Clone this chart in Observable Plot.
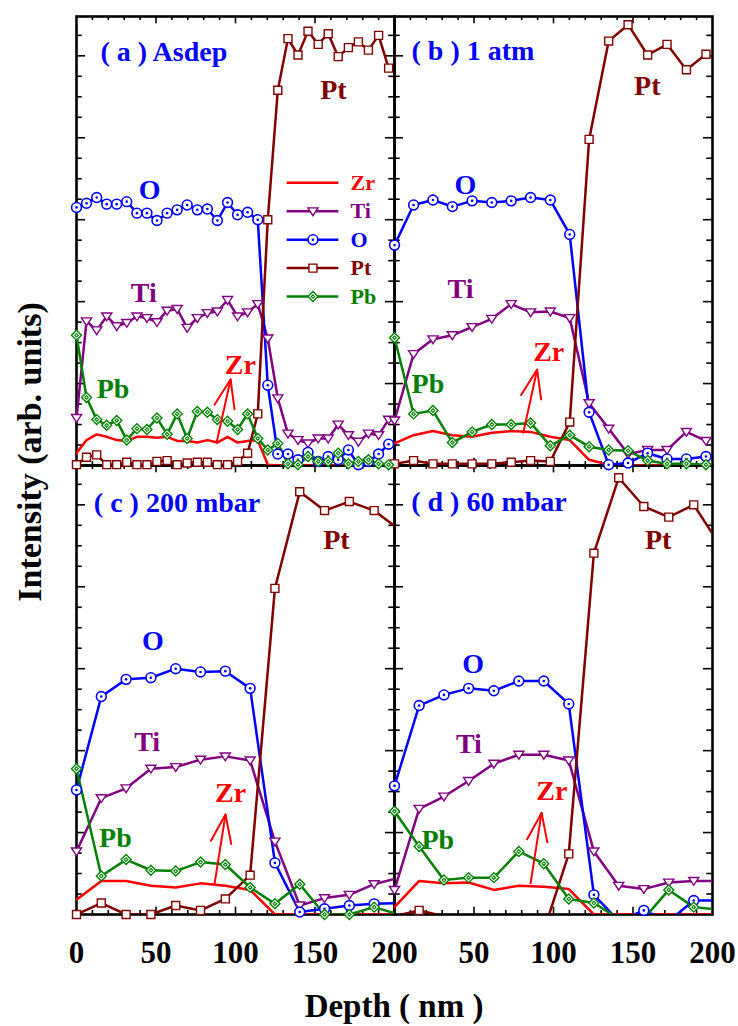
<!DOCTYPE html>
<html><head><meta charset="utf-8">
<script src="https://cdn.jsdelivr.net/npm/d3@7"></script>
<script src="https://cdn.jsdelivr.net/npm/@observablehq/plot@0.6"></script>
<style>
html,body{margin:0;padding:0;background:#fff;}
#wrap{position:relative;width:738px;height:1026px;overflow:hidden;background:#fff;}
#chart{position:absolute;left:0;top:0;}
.ttl{position:absolute;font-family:"Liberation Serif","Times New Roman",serif;font-weight:bold;font-size:33px;line-height:33px;white-space:nowrap;color:#000;}
#ylab{left:30px;top:452px;font-size:34px;line-height:34px;transform:translate(-50%,-50%) rotate(-90deg);}
#xlab{left:394px;top:1006px;transform:translate(-50%,-50%);}
</style></head><body>
<div id="wrap"><div id="chart"></div><div id="ylab" class="ttl">Intensity (arb. units)</div><div id="xlab" class="ttl">Depth ( nm )</div></div>
<script>
// ---------------- data ----------------
const elements = ["Zr", "Ti", "O", "Pt", "Pb"];
const panels = ["a", "b", "c", "d"];
const panelTitles = ["( a ) Asdep", "( b ) 1 atm", "( c ) 200 mbar", "( d ) 60 mbar"];

const depthA = [0,6.3,12.7,19,25.3,31.6,38,44.3,50.6,57,63.3,69.6,76,82.3,88.6,95,101.3,107.6,114,120.3,126.6,133,139.3,145.6,152,158.3,164.6,171,177.3,183.6,190,196.3];
const zrA = [0.15,0.31,0.38,0.35,0.31,0.30,0.35,0.35,0.34,0.35,0.30,0.30,0.28,0.31,0.28,0.35,0.28,0.30,0.31,0.01,0,0,0,0,0,0,0,0,0,0,0,0];
const tiA = [0.58,1.76,1.65,1.82,1.70,1.74,1.82,1.80,1.75,1.89,1.91,1.68,1.80,1.86,1.88,2.02,1.82,1.87,1.97,1.55,0.82,0.39,0.31,0.27,0.33,0.33,0.50,0.37,0.29,0.39,0.37,0.56];
const oA  = [3.15,3.20,3.27,3.19,3.19,3.22,3.08,3.08,2.99,3.08,3.12,3.18,3.12,3.13,2.99,3.21,3.06,3.09,3.00,0.98,0.14,0.14,0.07,0.16,0.05,0.11,0.07,0.19,0.01,0.05,0.14,0.26];
const ptA = [0.01,0.10,0.13,0.01,0.01,0.04,0.01,0.01,0.05,0.06,0.01,0.03,0.04,0.04,0.01,0.01,0.05,0.15,0.63,3.00,4.58,5.21,5.01,5.30,5.14,5.27,4.99,5.10,5.17,5.07,5.25,4.85];
const pbA = [1.59,0.83,0.56,0.49,0.55,0.31,0.45,0.44,0.58,0.38,0.63,0.33,0.66,0.65,0.56,0.54,0.44,0.63,0.33,0.19,0.27,0.02,0.01,0.11,0.05,0.05,0.15,0.02,0.05,0.07,0.02,0.01];

const depthB = [0,12,24.2,36.4,48.8,61.2,73.4,85.6,98,110.2,122.4,134.7,146.9,159.2,171.4,183.6,195.9];
const zrB = [0.27,0.37,0.42,0.37,0.35,0.40,0.42,0.41,0.35,0.31,0.07,0.01,0,0,0,0,0];
const tiB = [0.55,1.36,1.54,1.59,1.69,1.79,1.97,1.87,1.88,1.80,0.76,0.45,0.14,0.19,0.19,0.41,0.30];
const oB  = [2.69,3.18,3.24,3.16,3.23,3.21,3.23,3.27,3.24,2.82,0.65,0.01,0.03,0.15,0.08,0.08,0.11];
const ptB = [0.02,0.06,0.02,0.02,0.02,0.02,0.04,0.06,0.05,0.53,3.98,5.18,5.38,5.01,5.14,4.83,5.02];
const pbB = [1.56,0.63,0.67,0.28,0.41,0.50,0.50,0.52,0.24,0.37,0.23,0.19,0.18,0.06,0.02,0.02,0.01];

const depthC = [0,15.6,31.2,46.8,62.4,78,93.6,109.2,124.8,140.4,156,171.6,187.2,202.8];
const zrC = [0.18,0.41,0.41,0.35,0.33,0.38,0.35,0.30,0,0,0,0,0,0];
const tiC = [0.77,1.42,1.54,1.78,1.80,1.89,1.93,1.88,0.89,0.11,0.20,0.24,0.37,0.45];
const oC  = [1.52,2.66,2.87,2.89,3.00,2.96,2.97,2.76,0.63,0.03,0.07,0.11,0.13,0.14];
const ptC = [0,0.14,0,0,0.11,0.05,0.19,0.48,3.98,5.16,4.93,5.04,4.93,4.70];
const pbC = [1.78,0.47,0.67,0.54,0.53,0.64,0.61,0.33,0.13,0.37,0,0,0.09,0];

const depthD = [0,15.5,31.1,46.6,62.5,78.2,93.9,109.6,125.4,141,156.8,172.5,188.2,203.9];
const zrD = [0.09,0.41,0.38,0.39,0.30,0.35,0.34,0.31,0,0,0,0,0,0];
const tiD = [0.30,1.29,1.44,1.63,1.84,1.95,1.95,1.88,0.77,0.35,0.31,0.39,0.41,0.41];
const oD  = [1.57,2.55,2.68,2.76,2.73,2.85,2.85,2.57,0.24,-0.08,0.05,-0.08,0.17,0.17];
const ptD = [-0.02,0.05,-0.02,-1,-1,-1,-0.2,0.74,4.41,5.33,4.98,4.85,5.00,4.53];
const pbD = [1.26,0.83,0.42,0.45,0.45,0.77,0.62,0.19,0.14,-0.05,-0.05,0.30,0.09,0.06];

const xTickLabelsLeft = [0, 50, 100, 150, 200];
const xTickLabelsRight = [50, 100, 150, 200];

// ---------------- layout / style ----------------
const W = 738, H = 1026, ML = 76, MR = 26, MT = 15, MB = 112;
const YMAX = 5.48;
const PX_NM = (W - ML - MR) / 2 / 200;
const PX_U = (H - MT - MB) / 2 / YMAX;
const colors = {Zr: "#ff0000", Ti: "#800080", O: "#0000ff", Pt: "#800000", Pb: "#008000"};
const place = {a: ["L", "T"], b: ["R", "T"], c: ["L", "B"], d: ["R", "B"]};
const series = {
  a: {x: depthA, Zr: zrA, Ti: tiA, O: oA, Pt: ptA, Pb: pbA},
  b: {x: depthB, Zr: zrB, Ti: tiB, O: oB, Pt: ptB, Pb: pbB},
  c: {x: depthC, Zr: zrC, Ti: tiC, O: oC, Pt: ptC, Pb: pbC},
  d: {x: depthD, Zr: zrD, Ti: tiD, O: oD, Pt: ptD, Pb: pbD}
};
const labelPos = {
  a: {O: [46, 3.36], Ti: [42.3, 2.11], Pb: [23, 0.93], Pt: [161.6, 4.58], Zr: [103, 1.23]},
  b: {O: [44.6, 3.42], Ti: [41.5, 2.15], Pb: [21, 0.99], Pt: [159, 4.63], Zr: [97, 1.39]},
  c: {O: [48, 3.34], Ti: [44.4, 2.10], Pb: [24.5, 0.93], Pt: [163.5, 4.57], Zr: [96.9, 1.48]},
  d: {O: [49.4, 3.06], Ti: [46.8, 2.08], Pb: [27.2, 0.91], Pt: [165.8, 4.57], Zr: [99, 1.51]}
};
const titlePos = {a: [15.1, 5.05], b: [10.7, 5.06], c: [10.9, 5.02], d: [10.5, 5.04]};
const arrowPos = {
  a: {tail: [88, 0.27], tip: [96.9, 1.05]},
  b: {tail: [80.9, 0.39], tip: [89.7, 1.17]},
  c: {tail: [86.8, 0.37], tip: [93.7, 1.22]},
  d: {tail: [85.5, 0.37], tip: [92.5, 1.24]}
};
const LEG = {x1: 132.5, x2: 165, xm: 148.7, xt: 172.3, y0: 3.45, dy: 0.347};

// ---------------- build tables ----------------
const rows = [];
for (const p of panels) {
  const s = series[p];
  for (const el of elements) {
    s.x.forEach((x, i) => rows.push({panel: p, el, key: p + el, x, y: s[el][i], col: place[p][0], row: place[p][1]}));
  }
}
const visible = rows.filter(d => d.y >= 0 && d.x <= 200);

const elLabels = [];
for (const p of panels) for (const el of elements)
  elLabels.push({el, x: labelPos[p][el][0], y: labelPos[p][el][1], col: place[p][0], row: place[p][1]});
const titles = panels.map((p, i) => ({text: panelTitles[i], x: titlePos[p][0], y: titlePos[p][1], col: place[p][0], row: place[p][1]}));
const shafts = panels.map(p => ({x1: arrowPos[p].tail[0], y1: arrowPos[p].tail[1], x2: arrowPos[p].tip[0], y2: arrowPos[p].tip[1], col: place[p][0], row: place[p][1]}));
const barbs = [];
for (const p of panels) {
  const {tail, tip} = arrowPos[p];
  const dx = (tip[0] - tail[0]) * PX_NM, dy = -(tip[1] - tail[1]) * PX_U;
  const rot = Math.atan2(dx, -dy) * 180 / Math.PI;
  for (const s of [-20, 20]) barbs.push({x: tip[0], y: tip[1], rot: rot + 180 + s, col: place[p][0], row: place[p][1]});
}
const legendRows = elements.map((el, i) => ({el, x: LEG.xm, y: LEG.y0 - i * LEG.dy, col: "L", row: "T"}));
const xLabelRows = [
  ...xTickLabelsLeft.map(v => ({v, col: "L", row: "B"})),
  ...xTickLabelsRight.map(v => ({v, col: "R", row: "B"}))
];
const xTicks = d3.range(10, 200, 10).map(v => ({v, major: v % 50 === 0}));
const yTicks = d3.range(0.25, 5.3, 0.25).map(v => ({v, major: Math.abs(v - Math.round(v)) < 1e-9}));

// ---------------- symbols ----------------
const triDown = {draw(ctx, size) {
  const r = Math.sqrt(size / Math.PI);
  const w = r * 1.15, h1 = r * 0.78, h2 = r * 1.0;
  ctx.moveTo(-w, -h1); ctx.lineTo(w, -h1); ctx.lineTo(0, h2); ctx.closePath();
}};
const lineShape = {draw(ctx, l) { ctx.moveTo(0, 0); ctx.lineTo(0, -l); }};

function markers(data) {
  const pick = el => data.filter(d => d.el === el);
  const base = {x: "x", y: "y", fx: "col", fy: "row"};
  return [
    Plot.dot(pick("Ti"), {...base, symbol: triDown, r: 4.4, stroke: colors.Ti, fill: "white", strokeWidth: 1.4}),
    Plot.dot(pick("O"), {...base, symbol: "circle", r: 4.9, stroke: colors.O, fill: "white", strokeWidth: 1.6}),
    Plot.dot(pick("O"), {...base, symbol: "circle", r: 1.3, fill: colors.O}),
    Plot.dot(pick("Pt"), {...base, symbol: "square", r: 4.5, stroke: colors.Pt, fill: "white", strokeWidth: 1.4}),
    Plot.dot(pick("Pb"), {...base, symbol: "diamond2", r: 4.5, stroke: colors.Pb, fill: "white", strokeWidth: 1.4}),
    Plot.dot(pick("Pb"), {...base, symbol: "diamond2", r: 1.6, stroke: colors.Pb, fill: "white", strokeWidth: 1.1})
  ];
}

const chart = Plot.plot({
  width: W, height: H,
  marginLeft: ML, marginRight: MR, marginTop: MT, marginBottom: MB,
  x: {domain: [0, 200], axis: null},
  y: {domain: [0, YMAX], axis: null},
  fx: {domain: ["L", "R"], padding: 0, axis: null},
  fy: {domain: ["T", "B"], padding: 0, axis: null},
  color: {type: "identity"},
  style: {fontFamily: '"Liberation Serif", "Times New Roman", serif', background: "white"},
  marks: [
    Plot.frame({stroke: "#000", strokeWidth: 2.6}),
    Plot.ruleX(xTicks, {x: "v", y1: 0, y2: d => d.major ? 0.09 : 0.05, stroke: "#000", strokeWidth: 1.6}),
    Plot.ruleX(xTicks, {x: "v", y1: d => YMAX - (d.major ? 0.09 : 0.05), y2: YMAX, stroke: "#000", strokeWidth: 1.6}),
    Plot.ruleY(yTicks, {y: "v", x1: 0, x2: d => d.major ? 5.7 : 3.6, stroke: "#000", strokeWidth: 1.6}),
    Plot.ruleY(yTicks, {y: "v", x1: d => 200 - (d.major ? 5.7 : 3.6), x2: 200, stroke: "#000", strokeWidth: 1.6}),
    Plot.line(rows, {x: "x", y: "y", fx: "col", fy: "row", z: "key", stroke: d => colors[d.el], strokeWidth: 2.5, clip: true}),
    ...markers(visible),
    Plot.link(shafts, {x1: "x1", y1: "y1", x2: "x2", y2: "y2", fx: "col", fy: "row", stroke: colors.Zr, strokeWidth: 2}),
    Plot.vector(barbs, {x: "x", y: "y", fx: "col", fy: "row", length: 30, rotate: "rot", anchor: "start", shape: lineShape, stroke: colors.Zr, strokeWidth: 2}),
    Plot.text(elLabels, {x: "x", y: "y", text: "el", fx: "col", fy: "row", fill: d => colors[d.el], fontSize: 28, fontWeight: "bold", textAnchor: "middle", lineAnchor: "middle"}),
    Plot.text(titles, {x: "x", y: "y", text: "text", fx: "col", fy: "row", fill: "#0000ff", fontSize: 28, fontWeight: "bold", textAnchor: "start", lineAnchor: "middle"}),
    Plot.ruleY(legendRows, {y: "y", x1: LEG.x1, x2: LEG.x2, fx: "col", fy: "row", stroke: d => colors[d.el], strokeWidth: 2.5}),
    ...markers(legendRows),
    Plot.text(legendRows, {x: LEG.xt, y: "y", text: "el", fx: "col", fy: "row", fill: d => colors[d.el], fontSize: 22, fontWeight: "bold", textAnchor: "start", lineAnchor: "middle"}),
    Plot.text(xLabelRows, {x: "v", text: d => String(d.v), fx: "col", fy: "row", frameAnchor: "bottom", dy: 26, lineAnchor: "top", fontSize: 31, fontWeight: "bold", fill: "#000"})
  ]
});
document.getElementById("chart").appendChild(chart);
</script></body></html>
